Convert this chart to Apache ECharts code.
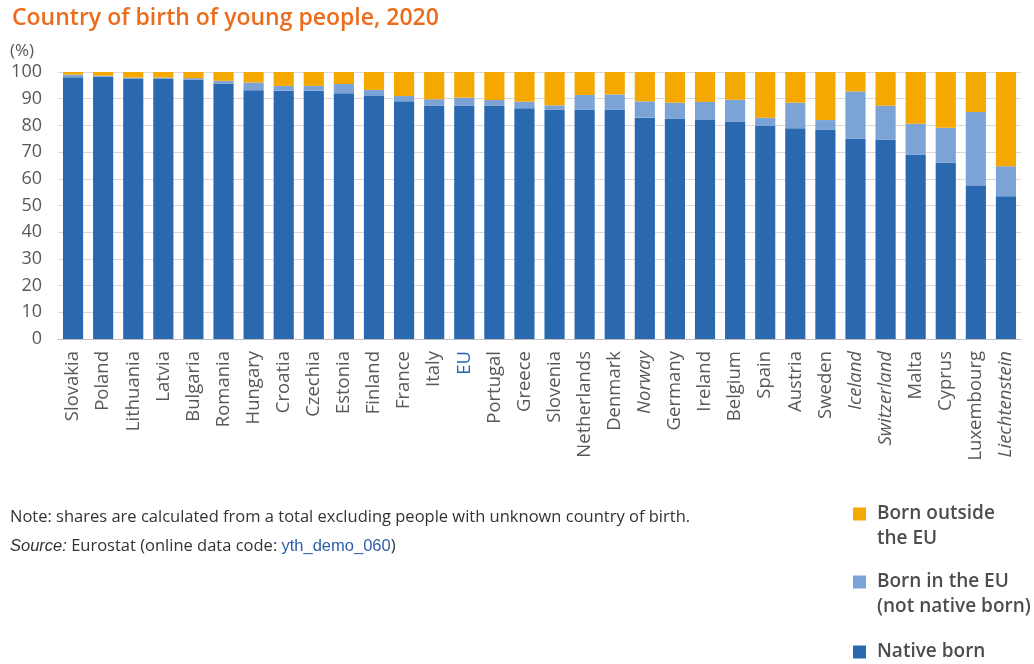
<!DOCTYPE html>
<html>
<head>
<meta charset="utf-8">
<script src="https://cdn.jsdelivr.net/npm/echarts@6/dist/echarts.min.js"></script>
<style>
html,body{margin:0;padding:0;background:#fff;}
#chart{width:1034px;height:664px;}
</style>
</head>
<body>
<div id="chart"></div>
<script>
const categories = ["Slovakia","Poland","Lithuania","Latvia","Bulgaria","Romania","Hungary","Croatia","Czechia","Estonia","Finland","France","Italy","EU","Portugal","Greece","Slovenia","Netherlands","Denmark","Norway","Germany","Ireland","Belgium","Spain","Austria","Sweden","Iceland","Switzerland","Malta","Cyprus","Luxembourg","Liechtenstein"];
const italicCats = ["Norway","Iceland","Switzerland","Liechtenstein"];
const nativeBorn = [98.0,98.2,97.4,97.4,97.2,95.7,93.2,93.0,93.0,92.0,91.0,89.0,87.3,87.3,87.3,86.4,85.8,85.8,85.8,82.9,82.6,82.0,81.3,79.8,78.9,78.3,75.0,74.6,69.1,66.0,57.3,53.5];
const bornInEU = [1.0,0.4,0.5,0.5,0.5,1.0,2.9,1.8,1.8,3.5,2.3,2.0,2.5,3.1,2.2,2.5,1.7,5.6,5.8,6.1,5.9,6.8,8.3,3.1,9.6,3.7,17.7,12.8,11.5,13.1,27.7,11.2];
const bornOutsideEU = [1.0,1.4,2.1,2.1,2.3,3.3,3.9,5.2,5.2,4.5,6.7,9.0,10.2,9.6,10.5,11.1,12.5,8.6,8.4,11.0,11.5,11.2,10.4,17.1,11.5,18.0,7.3,12.6,19.4,20.9,15.0,35.3];
const yTicks = [0,10,20,30,40,50,60,70,80,90,100];

const colNative = '#2a69b0';
const colEU = '#7ca3d6';
const colOut = '#f5a800';

const nameOut = 'Born outside\nthe EU';
const nameEU = 'Born in the EU\n(not native born)';
const nameNative = 'Native born';

const chart = echarts.init(document.getElementById('chart'));
const font = '"Open Sans", "Noto Sans", sans-serif';

// square icon placed at top-left of a taller, wider (invisible) box
const iconTwo = 'path://M0,0L13,0L13,13L0,13Z M19,38L19,38.01';
const iconOne = 'path://M0,0L13,0L13,13L0,13Z M19,13L19,13.01';

function legendAt(name, top, twoLines) {
  return {
    orient: 'vertical', left: 853, top: top, padding: 0,
    itemWidth: 19, itemHeight: twoLines ? 38 : 13,
    icon: twoLines ? iconTwo : iconOne,
    itemStyle: { borderWidth: 0 },
    data: [name],
    textStyle: { color: '#4d4d4d', fontSize: 19, fontWeight: 600, lineHeight: 25, fontFamily: font }
  };
}

chart.setOption({
  backgroundColor: '#fff',
  textStyle: { fontFamily: font },
  title: {
    text: 'Country of birth of young people, 2020',
    left: 7, top: 2,
    textStyle: { color: '#ec6c1c', fontSize: 23, fontWeight: 600, fontFamily: font }
  },
  legend: [
    legendAt(nameOut, 501.5, true),
    legendAt(nameEU, 569.5, true),
    legendAt(nameNative, 639.5, false)
  ],
  grid: { left: 58, right: 13, top: 72, bottom: 325, containLabel: false },
  xAxis: {
    type: 'category',
    data: categories,
    axisLine: { lineStyle: { color: '#bfbfbf' } },
    axisTick: { show: false },
    axisLabel: {
      rotate: 90, interval: 0, margin: 12,
      fontSize: 18.5, color: '#595959',
      formatter: function (v) {
        if (v === 'EU') return '{eu|' + v + '}';
        if (italicCats.indexOf(v) >= 0) return '{it|' + v + '}';
        return v;
      },
      rich: {
        eu: { color: '#1d64b4', fontSize: 18.5 },
        it: { fontStyle: 'italic', fontSize: 18.5, color: '#595959' }
      }
    }
  },
  yAxis: {
    type: 'value', min: 0, max: 100, interval: 10,
    name: '(%)',
    nameLocation: 'end',
    nameGap: 12,
    nameTextStyle: { color: '#595959', fontSize: 17, align: 'left', padding: [0, 0, 0, -48] },
    axisLine: { show: false },
    axisTick: { show: false },
    axisLabel: { fontSize: 18, color: '#595959', margin: 16,
      formatter: function (v) { return yTicks.indexOf(v) >= 0 ? String(v) : ''; } },
    splitLine: { lineStyle: { color: '#d9d9d9', width: 1 } }
  },
  series: [
    { name: nameNative, type: 'bar', stack: 's', data: nativeBorn, itemStyle: { color: colNative }, barCategoryGap: '33%' },
    { name: nameEU, type: 'bar', stack: 's', data: bornInEU, itemStyle: { color: colEU } },
    { name: nameOut, type: 'bar', stack: 's', data: bornOutsideEU, itemStyle: { color: colOut } }
  ],
  graphic: [
    { type: 'text', left: 10, top: 509, style: { text: 'Note: shares are calculated from a total excluding people with unknown country of birth.', fill: '#333', font: '16.5px ' + font } },
    { type: 'text', left: 10, top: 538, style: {
      text: '{i|Source:} Eurostat (online data code: {l|yth_demo_060})',
      fill: '#333', font: '16.5px ' + font,
      rich: { i: { fontStyle: 'italic', fontSize: 16.5, fill: '#333' }, l: { fill: '#2e5ea8', fontSize: 16.5 } }
    } }
  ]
});
</script>
</body>
</html>
